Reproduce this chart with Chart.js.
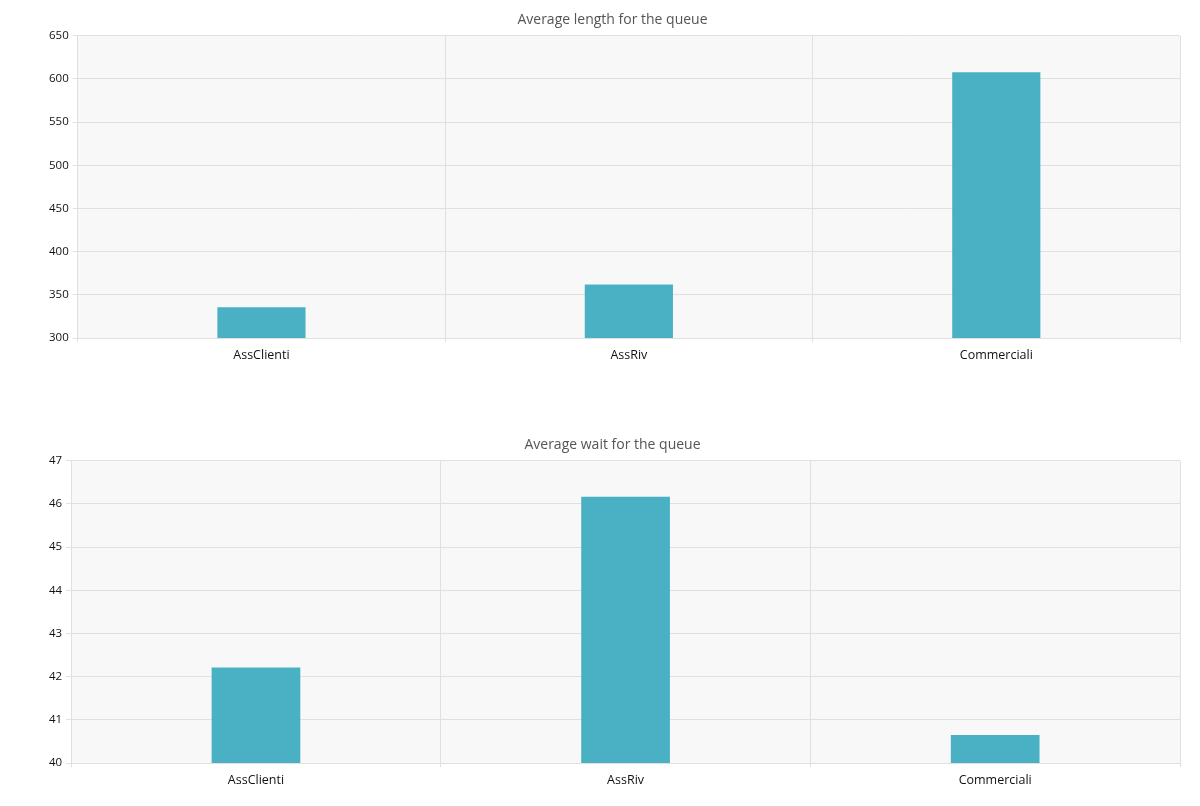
<!DOCTYPE html>
<html>
<head>
<meta charset="utf-8">
<script src="https://cdn.jsdelivr.net/npm/chart.js@4"></script>
<style>
  body { margin: 0; background: #fff; }
  .box { position: absolute; left: 0; width: 1200px; height: 369px; }
</style>
</head>
<body>
<div class="box" style="top:0"><canvas id="grafico1"></canvas></div>
<div class="box" style="top:425px"><canvas id="grafico2"></canvas></div>
<script>
const graf = document.getElementById("grafico1");
const graf2 = document.getElementById("grafico2");

const code = ["AssClienti", "AssRiv", "Commerciali"];

//lunghezza media
const lunghezza = [335.7, 362, 607.7];

//attesa media
const attesa = [42.21, 46.17, 40.65];

Chart.defaults.font.family = "'Open Sans', sans-serif";
Chart.defaults.color = "#222";

// sfondo grigio dell'area del grafico
const sfondo = {
  id: "sfondo",
  beforeDraw(chart) {
    const a = chart.chartArea;
    const ctx = chart.ctx;
    ctx.save();
    ctx.fillStyle = "#f8f8f8";
    ctx.fillRect(a.left, a.top, a.right - a.left, a.bottom - a.top);
    ctx.restore();
  },
};

function opzioni(titolo, min, max, step) {
  return {
    responsive: true,
    maintainAspectRatio: false,
    animation: false,
    layout: { padding: { left: 45, right: 20 } },
    plugins: {
      legend: { display: false },
      tooltip: { enabled: false },
      title: {
        display: true,
        text: titolo,
        color: "#555",
        font: { size: 14, weight: "normal" },
        padding: { top: 12, bottom: 7 },
      },
    },
    scales: {
      x: {
        grid: { color: "#e0e0e0", tickLength: 4, offset: true },
        border: { color: "#e0e0e0" },
        ticks: { font: { size: 12.5 }, color: "#111", padding: 6 },
      },
      y: {
        min: min,
        max: max,
        grid: { color: "#e0e0e0", tickLength: 5 },
        border: { color: "#e0e0e0" },
        ticks: { stepSize: step, font: { size: 11.5 }, color: "#111", padding: 4 },
      },
    },
  };
}

new Chart(graf, {
  type: "bar",
  data: {
    labels: code,
    datasets: [
      {
        data: lunghezza,
        backgroundColor: "#4ab1c5",
        categoryPercentage: 0.8,
        barPercentage: 0.3,
      },
    ],
  },
  options: opzioni("Average length for the queue", 300, 650, 50),
  plugins: [sfondo],
});

new Chart(graf2, {
  type: "bar",
  data: {
    labels: code,
    datasets: [
      {
        data: attesa,
        backgroundColor: "#4ab1c5",
        categoryPercentage: 0.8,
        barPercentage: 0.3,
      },
    ],
  },
  options: opzioni("Average wait for the queue", 40, 47, 1),
  plugins: [sfondo],
});
</script>
</body>
</html>
